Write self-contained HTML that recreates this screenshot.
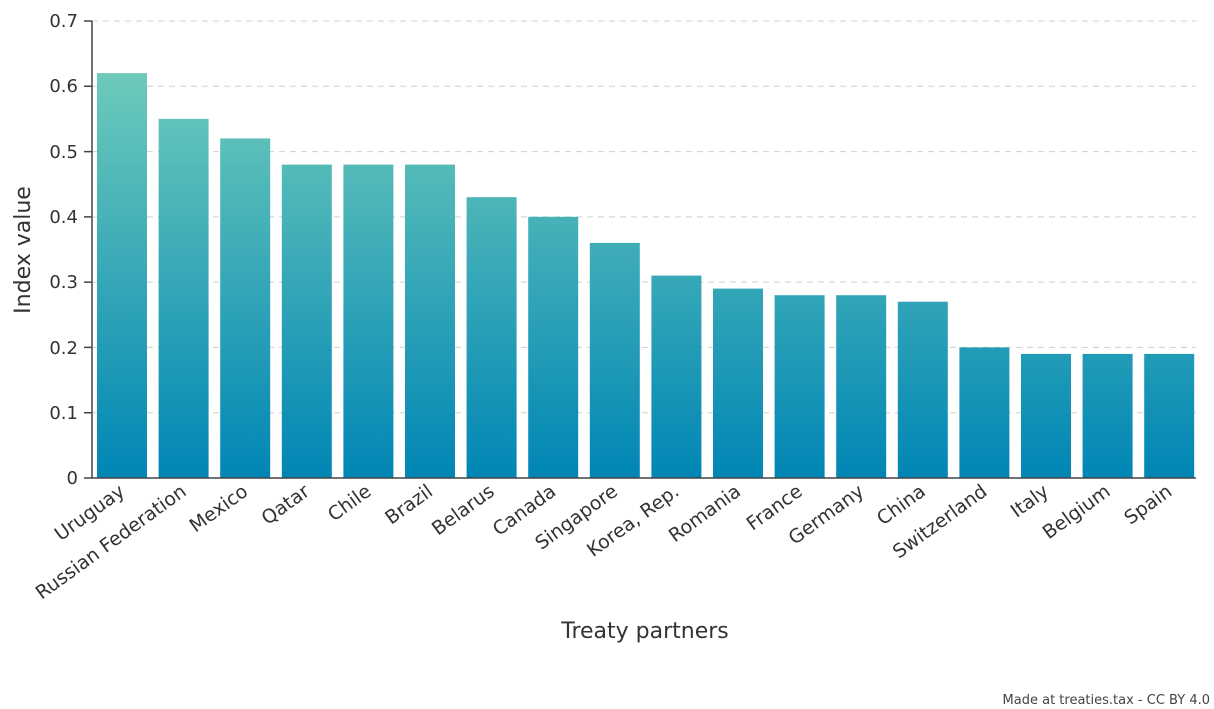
<!DOCTYPE html>
<html><head><meta charset="utf-8"><style>body{margin:0;background:#fff}svg{display:block}text{font-family:"DejaVu Sans","Liberation Sans",sans-serif}</style></head><body>
<svg width="1214" height="709" xmlns="http://www.w3.org/2000/svg">
<defs><linearGradient id="g" gradientUnits="userSpaceOnUse" x1="0" y1="21" x2="0" y2="478"><stop offset="0" stop-color="#7cd3bb"/><stop offset="1" stop-color="#0086b5"/></linearGradient></defs>
<g stroke="#d0d0d0" stroke-dasharray="6,5" stroke-width="1">
<line x1="92" x2="1196" y1="21" y2="21"/><line x1="92" x2="1196" y1="86.3" y2="86.3"/><line x1="92" x2="1196" y1="151.6" y2="151.6"/><line x1="92" x2="1196" y1="216.9" y2="216.9"/><line x1="92" x2="1196" y1="282.1" y2="282.1"/><line x1="92" x2="1196" y1="347.4" y2="347.4"/><line x1="92" x2="1196" y1="412.7" y2="412.7"/>
</g>
<g fill="url(#g)">
<rect x="97" y="73.1" width="50" height="404.9"/>
<rect x="158.6" y="118.8" width="50" height="359.2"/>
<rect x="220.2" y="138.4" width="50" height="339.6"/>
<rect x="281.8" y="164.6" width="50" height="313.4"/>
<rect x="343.4" y="164.6" width="50" height="313.4"/>
<rect x="405" y="164.6" width="50" height="313.4"/>
<rect x="466.6" y="197.2" width="50" height="280.8"/>
<rect x="528.2" y="216.8" width="50" height="261.2"/>
<rect x="589.8" y="242.9" width="50" height="235.1"/>
<rect x="651.4" y="275.6" width="50" height="202.4"/>
<rect x="713" y="288.6" width="50" height="189.4"/>
<rect x="774.6" y="295.2" width="50" height="182.8"/>
<rect x="836.2" y="295.2" width="50" height="182.8"/>
<rect x="897.8" y="301.7" width="50" height="176.3"/>
<rect x="959.4" y="347.4" width="50" height="130.6"/>
<rect x="1021" y="353.9" width="50" height="124.1"/>
<rect x="1082.6" y="353.9" width="50" height="124.1"/>
<rect x="1144.2" y="353.9" width="50" height="124.1"/>
</g>
<g stroke="#444" stroke-width="1.5" fill="none"><path d="M92 21V478H1196"/>
<path d="M84 21H92M84 86.3H92M84 151.6H92M84 216.9H92M84 282.1H92M84 347.4H92M84 412.7H92M84 478H92"/></g>
<g font-size="18" fill="#333" text-anchor="end">
<text x="78" y="27">0.7</text><text x="78" y="92">0.6</text><text x="78" y="158">0.5</text><text x="78" y="223">0.4</text><text x="78" y="288">0.3</text><text x="78" y="354">0.2</text><text x="78" y="419">0.1</text><text x="78" y="484">0</text>
</g>
<g font-size="19" fill="#333" text-anchor="end">
<text transform="translate(126,494) rotate(-36)">Uruguay</text>
<text transform="translate(187.6,494) rotate(-36)">Russian Federation</text>
<text transform="translate(249.2,494) rotate(-36)">Mexico</text>
<text transform="translate(310.8,494) rotate(-36)">Qatar</text>
<text transform="translate(372.4,494) rotate(-36)">Chile</text>
<text transform="translate(434,494) rotate(-36)">Brazil</text>
<text transform="translate(495.6,494) rotate(-36)">Belarus</text>
<text transform="translate(557.2,494) rotate(-36)">Canada</text>
<text transform="translate(618.8,494) rotate(-36)">Singapore</text>
<text transform="translate(680.4,494) rotate(-36)">Korea, Rep.</text>
<text transform="translate(742,494) rotate(-36)">Romania</text>
<text transform="translate(803.6,494) rotate(-36)">France</text>
<text transform="translate(865.2,494) rotate(-36)">Germany</text>
<text transform="translate(926.8,494) rotate(-36)">China</text>
<text transform="translate(988.4,494) rotate(-36)">Switzerland</text>
<text transform="translate(1050,494) rotate(-36)">Italy</text>
<text transform="translate(1111.6,494) rotate(-36)">Belgium</text>
<text transform="translate(1173.2,494) rotate(-36)">Spain</text>
</g>
<text x="0" y="0" font-size="22" fill="#333" text-anchor="middle" transform="translate(30,250) rotate(-90)">Index value</text>
<text x="645" y="638" font-size="22" fill="#333" text-anchor="middle">Treaty partners</text>
<text x="1210" y="704" font-size="13" fill="#444" text-anchor="end">Made at treaties.tax - CC BY 4.0</text>
</svg>
</body></html>
